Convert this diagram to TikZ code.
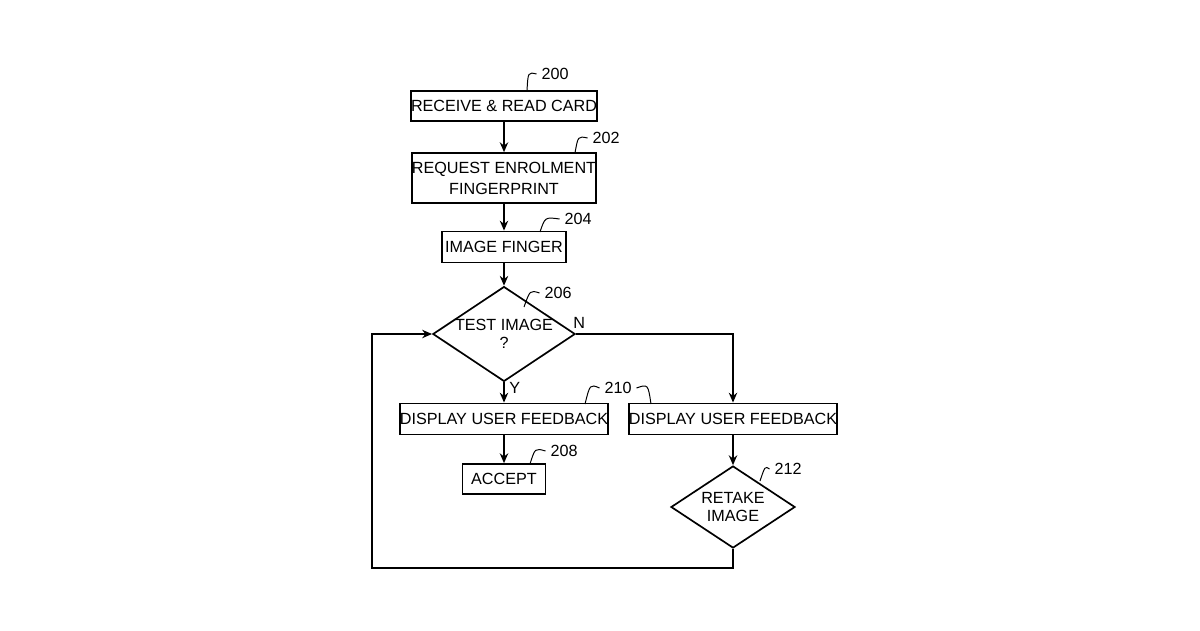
\documentclass[tikz,border=0pt]{standalone}
\usepackage{fontspec}
\setmainfont{Liberation Sans}
\usetikzlibrary{shapes.geometric, arrows.meta}
\tikzset{
    every node/.style={font=\fontsize{11.5}{13}\selectfont},
    box/.style={draw, line width=1.2pt, inner sep=0pt, align=center},
    test/.style={draw, line width=1.2pt, diamond, aspect=1.5, inner sep=0pt,
        minimum width=3.1cm, minimum height=2.05cm, align=center},
    flow/.style={line width=1pt, -{Stealth[length=7pt,width=6pt]}},
    lead/.style={line width=0.7pt}
}
\begin{document}
\begin{tikzpicture}[x=0.025cm, y=-0.025cm]
	\useasboundingbox (0,0) rectangle (1200,630);
	\node (200) [box, minimum width=4.3cm, minimum height=0.75cm] at (504,106) {RECEIVE \& READ CARD};
	\node (202) [box, minimum width=4.3cm, minimum height=1.25cm] at (504,178) {REQUEST ENROLMENT\\[2pt]FINGERPRINT};
	\node (204) [box, minimum width=3.1cm, minimum height=0.78cm] at (504,247) {IMAGE FINGER};
	\node (206) [test] at (504,334) {TEST IMAGE\\?};
	\node (210a) [box, minimum width=4.85cm, minimum height=0.78cm] at (504,419) {DISPLAY USER FEEDBACK};
	\node (208) [box, minimum width=2.08cm, minimum height=0.75cm] at (504,479) {ACCEPT};
	\node (210b) [box, minimum width=4.85cm, minimum height=0.78cm] at (733,419) {DISPLAY USER FEEDBACK};
	\node (212) [test] at (733,507) {RETAKE\\IMAGE};

	\draw[flow] (200) -- (202);
	\draw[flow] (202) -- (204);
	\draw[flow] (204) -- (206);
	\draw[flow] (206) -- node[right, pos=0.3] {Y} (210a);
	\draw[flow] (210a) -- (208);
	\draw[flow] (206.east) -- (733,334) node[pos=0.02, above] {N} -- (210b);
	\draw[flow] (210b) -- (212);
	\draw[flow] (212.south) -- (733,568) -- (372,568) -- (372,334) -- (206.west);

	% reference numerals
	\node (n200) at (555,74) {200};
	\node (n202) at (606,138) {202};
	\node (n204) at (578,219) {204};
	\node (n206) at (558,293) {206};
	\node (n210) at (618,388) {210};
	\node (n208) at (564,451) {208};
	\node (n212) at (788,469) {212};
	\draw[lead] (n200.west) .. controls (528,72) .. (527,91);
	\draw[lead] (n202.west) .. controls (578,136) .. (575,153);
	\draw[lead] (n204.west) .. controls (545,217) .. (540,232);
	\draw[lead] (n206.west) .. controls (530,290) .. (524,307);
	\draw[lead] (n210.west) .. controls (590,384) .. (585,404);
	\draw[lead] (n210.east) .. controls (648,384) .. (651,404);
	\draw[lead] (n208.west) .. controls (535,448) .. (530,464);
	\draw[lead] (n212.west) .. controls (765,466) .. (760,481);
\end{tikzpicture}
\end{document}
